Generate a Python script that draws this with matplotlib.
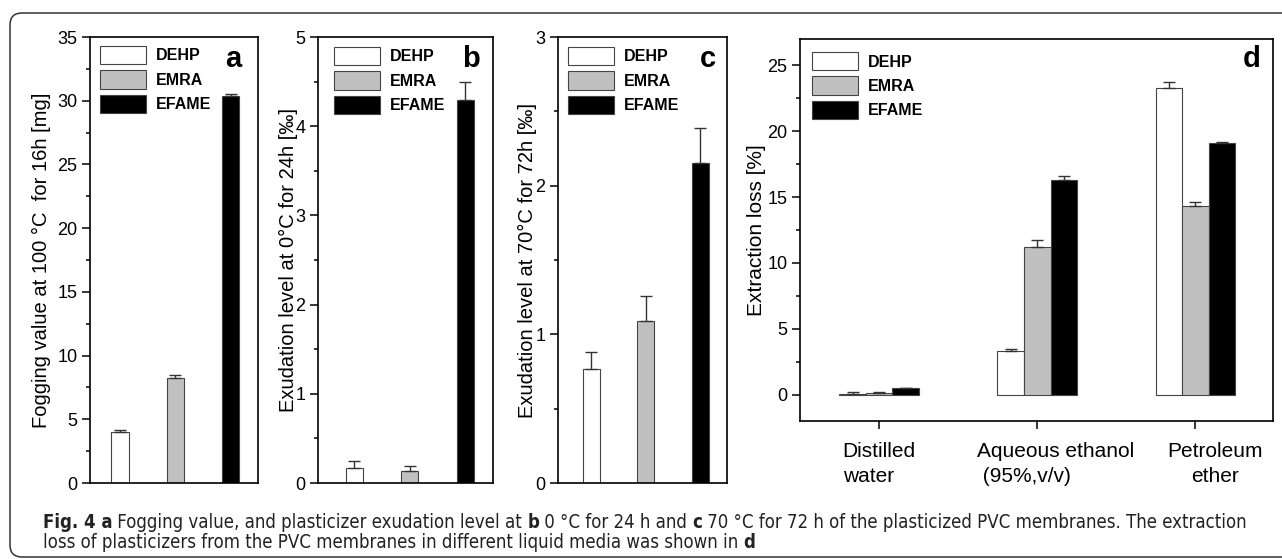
import numpy as np
import matplotlib
matplotlib.use("Agg")
import matplotlib.pyplot as plt
from matplotlib import font_manager
from matplotlib.patches import FancyBboxPatch
from matplotlib.transforms import IdentityTransform, ScaledTranslation
from matplotlib.ticker import MultipleLocator

# ---- data ----
plasticizers = ["DEHP", "EMRA", "EFAME"]
bar_colors = ["white", "#c0c0c0", "black"]

fog_val = [4.02, 8.25, 30.4]          # panel a, mg
fog_err = [0.10, 0.20, 0.10]
exu0_val = [0.17, 0.13, 4.29]         # panel b, per mille
exu0_err = [0.08, 0.06, 0.21]
exu70_val = [0.77, 1.09, 2.15]        # panel c, per mille
exu70_err = [0.11, 0.17, 0.24]

media = ["Distilled\nwater", "Aqueous ethanol\n (95%,v/v)", "Petroleum\nether"]
dehp_ext = [0.08, 3.30, 23.25]        # panel d, %
dehp_ext_err = [0.12, 0.17, 0.45]
emra_ext = [0.14, 11.20, 14.35]
emra_ext_err = [0.03, 0.55, 0.30]
efame_ext = [0.48, 16.30, 19.13]
efame_ext_err = [0.05, 0.28, 0.05]

plt.rcParams["font.family"] = ["Liberation Sans", "DejaVu Sans"]
plt.rcParams["axes.linewidth"] = 1.2

W, H = 1282, 559
fig = plt.figure(figsize=(W / 100, H / 100), dpi=100)


def px_axes(x0, x1, y0, y1):
    # pixel box (top-left origin) -> figure axes
    return fig.add_axes([x0 / W, 1 - y1 / H, (x1 - x0) / W, (y1 - y0) / H])


def style_axis(ax, major, minor):
    ax.yaxis.set_major_locator(MultipleLocator(major))
    ax.yaxis.set_minor_locator(MultipleLocator(minor))
    ax.tick_params(axis="y", which="major", direction="out", length=6,
                   width=1.1, labelsize=13, pad=3)
    ax.tick_params(axis="y", which="minor", direction="out", length=3, width=1.1)
    ax.tick_params(right=False, top=False)


def legend(ax, ax_x, ax_y):
    ax.legend(loc="upper left", bbox_to_anchor=(ax_x, ax_y), frameon=False,
              borderaxespad=0, borderpad=0, handlelength=2.9, handleheight=1.4,
              labelspacing=0.37, handletextpad=0.6,
              prop={"weight": "bold", "size": 11.5})


err_kw = dict(ecolor="#333333", elinewidth=1.0, capsize=4, capthick=1.0)


def simple_panel(box, vals, errs, xlim, ylim, major, minor, ylabel, lab_x,
                 leg_pos, letter, letter_x):
    ax = px_axes(*box)
    for i, name in enumerate(plasticizers):
        ax.bar(i + 1, vals[i], width=0.31, color=bar_colors[i],
               edgecolor="#444444", linewidth=0.8, label=name,
               yerr=[[0], [errs[i]]], error_kw=err_kw)
    ax.set_xlim(*xlim)
    ax.set_ylim(*ylim)
    ax.set_xticks([])
    style_axis(ax, major, minor)
    ax.set_ylabel(ylabel, fontsize=14.5, va="center")
    ax.yaxis.set_label_coords(lab_x, 0.5)
    legend(ax, *leg_pos)
    ax.text(letter_x, 0.933, letter, transform=ax.transAxes, fontsize=21,
            fontweight="bold", ha="center", va="baseline")
    return ax


simple_panel((90, 258, 37, 483), fog_val, fog_err, (0.46, 3.49), (0, 35), 5, 2.5,
             "Fogging value at 100 °C  for 16h [mg]", -0.286, (0.06, 0.98), "a", 0.855)
simple_panel((318, 493, 37, 483), exu0_val, exu0_err, (0.35, 3.5), (0, 5), 1, 0.5,
             "Exudation level at 0°C for 24h [‰]", -0.171, (0.091, 0.978), "b", 0.875)
simple_panel((558, 727, 37, 483), exu70_val, exu70_err, (0.39, 3.49), (0, 3), 1, 0.5,
             "Exudation level at 70°C for 72h [‰]", -0.178, (0.059, 0.978), "c", 0.89)

# ---- panel d ----
axd = px_axes(800, 1273, 39, 421)
x = np.arange(len(media))
bw = 0.168
series = [(dehp_ext, dehp_ext_err), (emra_ext, emra_ext_err), (efame_ext, efame_ext_err)]
for i, (vals, errs) in enumerate(series):
    axd.bar(x + (i - 1) * bw, vals, width=bw, color=bar_colors[i],
            edgecolor="#444444", linewidth=0.8, label=plasticizers[i],
            yerr=[np.zeros(len(errs)), errs], error_kw=err_kw)
axd.set_xlim(-0.5, 2.49)
axd.set_ylim(-2, 27)
style_axis(axd, 5, 2.5)
axd.set_xticks(x)
axd.set_xticklabels(media, fontsize=15, linespacing=1.4)
axd.tick_params(axis="x", direction="out", length=6, width=1.1, pad=9)
shifts = [0, 18, 20]
aligns = ["left", "left", "center"]
for lab, dx, al in zip(axd.get_xticklabels(), shifts, aligns):
    lab.set_multialignment(al)
    lab.set_transform(lab.get_transform() + ScaledTranslation(dx / 100, 0, fig.dpi_scale_trans))
axd.set_ylabel("Extraction loss [%]", fontsize=15, va="center")
axd.yaxis.set_label_coords(-0.091, 0.5)
legend(axd, 0.025, 0.966)
axd.text(0.955, 0.927, "d", transform=axd.transAxes, fontsize=21,
         fontweight="bold", ha="center", va="baseline")

# ---- outer frame ----
frame = FancyBboxPatch((10, 2), 1290, 544, boxstyle="round,pad=0,rounding_size=12",
                       transform=IdentityTransform(), facecolor="none",
                       edgecolor="#333333", linewidth=1.1)
fig.add_artist(frame)

# ---- caption with bold runs ----
# the caption face is a condensed sans; use a narrow face if one is installed
entries = font_manager.fontManager.ttflist
cap_family, cap_stretch = ["Liberation Sans", "DejaVu Sans"], "normal"
if any(f.name == "Liberation Sans Narrow" for f in entries):
    cap_family = ["Liberation Sans Narrow", "DejaVu Sans"]
elif any(f.name == "DejaVu Sans" and f.stretch in ("condensed", "semi-condensed") for f in entries):
    cap_family, cap_stretch = ["DejaVu Sans"], "condensed"

line1 = [("Fig. 4 a", "bold"), (" Fogging value, and plasticizer exudation level at ", "normal"),
         ("b", "bold"), (" 0 °C for 24 h and ", "normal"), ("c", "bold"),
         (" 70 °C for 72 h of the plasticized PVC membranes. The extraction", "normal")]
line2 = [("loss of plasticizers from the PVC membranes in different liquid media was shown in ", "normal"),
         ("d", "bold")]

renderer = fig.canvas.get_renderer()


def draw_runs(runs, x0, y_base, size):
    xcur = x0
    for s, wgt in runs:
        t = fig.text(xcur / W, 1 - y_base / H, s, fontsize=size, fontweight=wgt,
                     family=cap_family, stretch=cap_stretch, color="#222222",
                     ha="left", va="baseline")
        xcur = t.get_window_extent(renderer).x1
    return xcur


# fit line 1 to the width seen in the figure
cap_size = 12
tmp = fig.text(0, 0, "".join(s for s, _ in line1), fontsize=cap_size,
               family=cap_family, stretch=cap_stretch)
wid = tmp.get_window_extent(renderer).width
tmp.remove()
cap_size = min(cap_size * 1195 / wid, 13.5)

draw_runs(line1, 43, 528, cap_size)
draw_runs(line2, 43, 548, cap_size)

fig.savefig("out.png", dpi=100)
